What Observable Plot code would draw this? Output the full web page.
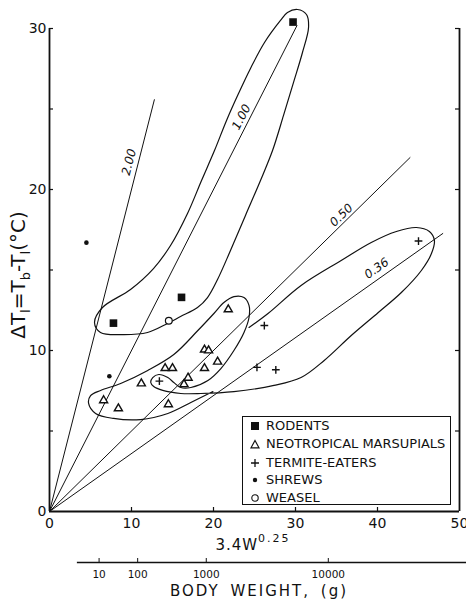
<!DOCTYPE html>
<html><head><meta charset="utf-8">
<script src="https://cdn.jsdelivr.net/npm/d3@7"></script>
<script src="https://cdn.jsdelivr.net/npm/@observablehq/plot@0.6"></script>
<style>
body{margin:0;background:#fff;}
#wrap{position:relative;width:466px;height:611px;overflow:hidden;font-family:"DejaVu Sans",sans-serif;color:#111;background:#fff;}
#wrap > svg{position:absolute;left:0;}
.lbl{position:absolute;white-space:nowrap;transform:translateX(-50%);}
#legend{position:absolute;left:242px;top:416px;width:207px;height:87px;border:1.5px solid #111;font-size:13px;background:#fff;}
#legend .row{position:absolute;left:0;height:16px;line-height:16px;transform:translateY(-50%);white-space:nowrap;}
#legend .row svg{position:absolute;left:7px;top:3px;}
#legend .row span{position:absolute;left:23px;top:0;}
</style></head>
<body>
<div id="wrap"></div>
<script>
// ---------- data ----------
// Each point: [3.4W^0.25, ΔT (°C)]
const rodents = [[29.7, 30.4], [7.8, 11.7], [16.1, 13.3]];
const marsupials = [[6.6, 6.9], [8.4, 6.4], [11.2, 7.95], [14.1, 8.9], [15.0, 8.9], [14.5, 6.65],
  [16.9, 8.3], [16.4, 7.9], [18.9, 8.9], [18.9, 10.05], [19.4, 10.0], [20.5, 9.3], [21.8, 12.55]];
const termiteEaters = [[45.0, 16.8], [26.2, 11.55], [25.3, 8.95], [27.6, 8.8], [13.4, 8.1]];
const shrews = [[4.5, 16.7], [7.3, 8.4]];
const weasel = [[14.55, 11.85]];

// Lines of constant conductance ΔT = k * 3.4W^0.25
const slopes = [2.00, 1.00, 0.50, 0.36];
const slopeLineEnds = [12.8, 30.2, 44.0, 48.0];
const slopeLabels = ["2.00", "1.00", "0.50", "0.36"];
const slopeLabelX = [9.7, 23.4, 35.6, 39.9];
const slopeLabelY = [21.7, 24.5, 18.4, 15.1];

// Hand-drawn group outlines
const rodentOutline = [[5.49,11.74],[6.22,11.12],[9.02,10.99],[11.95,11.12],[14.39,11.68],[15.98,12.11],
  [18.05,12.67],[19.27,13.29],[20.49,14.41],[22.07,16.21],[23.90,18.39],[25.73,20.56],[27.20,22.42],
  [28.54,24.60],[29.76,26.65],[30.85,28.51],[31.59,30.06],[31.34,30.87],[30.24,31.18],[29.02,30.99],
  [28.17,30.50],[26.22,29.13],[24.51,27.52],[23.05,25.96],[21.59,24.29],[20.12,22.42],[18.54,20.56],
  [16.83,18.51],[14.76,16.52],[12.68,15.09],[9.88,13.79],[6.46,12.67]];
const marsupialTermiteOutline = [[19.93,7.45],[17.24,6.77],[14.43,6.09],[11.12,5.71],[7.82,5.78],[5.62,6.09],
  [4.77,6.71],[5.01,7.20],[6.23,7.52],[8.68,7.95],[11.98,8.76],[15.16,9.75],[18.09,11.24],[20.05,12.30],
  [21.27,12.98],[22.49,13.35],[23.72,13.29],[24.33,12.80],[24.33,12.05],[23.72,11.12],[22.49,10.00],
  [20.90,8.88],[19.32,8.14],[17.24,7.70],[16.01,7.70],[15.16,8.01],[14.43,8.32],[13.33,8.51],[12.59,8.32],
  [12.35,8.01],[12.71,7.76],[13.81,7.52],[16.01,7.33],[18.46,7.33],[22.49,7.45],[27.38,7.83],[30.68,8.32],
  [33.50,9.38],[36.80,10.93],[40.10,12.36],[42.91,13.60],[45.35,14.97],[46.58,16.02],[46.94,16.83],
  [46.33,17.39],[44.74,17.64],[42.30,17.39],[39.24,16.71],[35.57,15.59],[30.68,14.04],[26.65,12.30],[24.33,11.43]];

// Axes
const xTicks = [0, 10, 20, 30, 40, 50];
const yTicks = [0, 10, 20, 30];
const yMinorTicks = [5, 10, 15, 20, 25, 30];
const xMinorTicks = [10, 20, 30, 40];
const weightTicks = [10, 100, 1000, 10000];
const weightAxisStart = 1;
const legendItems = ["RODENTS", "NEOTROPICAL MARSUPIALS", "TERMITE-EATERS", "SHREWS", "WEASEL"];

// ---------- chart ----------
const W = 466, H = 553, mL = 49, mR = 7, mT = 28, mB = 42;
const xDom = [0, 50], yDom = [0, 30];
const pxX = (W - mL - mR) / (xDom[1] - xDom[0]);
const pxY = (H - mT - mB) / (yDom[1] - yDom[0]);
const toW = w => 3.4 * Math.pow(w, 0.25);
const ink = "#111";

const slopeRows = slopes.map((k, i) => ({k, xEnd: slopeLineEnds[i], label: slopeLabels[i], lx: slopeLabelX[i], ly: slopeLabelY[i],
  angle: -Math.atan(k * pxY / pxX) * 180 / Math.PI}));

const chart = Plot.plot({
  width: W, height: H, marginLeft: mL, marginRight: mR, marginTop: mT, marginBottom: mB,
  style: {fontFamily: "DejaVu Sans", fontSize: "14px", color: ink, background: "white"},
  x: {domain: xDom, ticks: xTicks, tickSize: 0, tickPadding: 7, label: null},
  y: {domain: yDom, ticks: yTicks, tickSize: 0, tickPadding: 3, label: null},
  marks: [
    // frame
    Plot.ruleX([xDom[0], xDom[1]], {y1: yDom[0], y2: yDom[1], stroke: ink, strokeWidth: 1.8}),
    Plot.ruleY([yDom[0]], {x1: xDom[0], x2: xDom[1], stroke: ink, strokeWidth: 1.8}),
    Plot.ruleY(yMinorTicks, {x1: xDom[0], x2: xDom[0] + 4 / pxX, stroke: ink, strokeWidth: 1.2}),
    Plot.ruleY(yMinorTicks, {x1: xDom[1] - 4 / pxX, x2: xDom[1], stroke: ink, strokeWidth: 1.2}),
    Plot.ruleX(xMinorTicks, {y1: yDom[0], y2: yDom[0] + 4 / pxY, stroke: ink, strokeWidth: 1.2}),
    // conductance lines
    Plot.link(slopeRows, {x1: d => 0, y1: d => 0, x2: d => d.xEnd, y2: d => d.k * d.xEnd, stroke: ink, strokeWidth: 1}),
    Plot.text(slopeRows, {x: "lx", y: "ly", text: "label", rotate: d => d.angle, fontSize: 12, fontStyle: "italic", fill: ink}),
    // outlines
    Plot.line(rodentOutline, {x: d => d[0], y: d => d[1], curve: "catmull-rom-closed", stroke: ink, strokeWidth: 1.2}),
    Plot.line(marsupialTermiteOutline, {x: d => d[0], y: d => d[1], curve: "catmull-rom", stroke: ink, strokeWidth: 1.2}),
    // points
    Plot.dot(marsupials, {x: d => d[0], y: d => d[1], symbol: "triangle", r: 3, stroke: ink, strokeWidth: 1.4, fill: "white"}),
    Plot.dot(termiteEaters, {x: d => d[0], y: d => d[1], symbol: "times", rotate: 45, r: 2.6, stroke: ink, strokeWidth: 1.4}),
    Plot.dot(shrews, {x: d => d[0], y: d => d[1], r: 2.3, fill: ink, stroke: "none"}),
    Plot.dot(weasel, {x: d => d[0], y: d => d[1], r: 3.4, stroke: ink, strokeWidth: 1.2, fill: "white"}),
    Plot.dot(rodents, {x: d => d[0], y: d => d[1], symbol: "square", r: 4.3, fill: ink, stroke: "none"})
  ]
});

// y-axis title with subscripts
{
  const svg = d3.select(chart);
  const t = svg.append("text")
    .attr("transform", "translate(25,275) rotate(-90)")
    .attr("text-anchor", "middle")
    .attr("font-size", 20).attr("font-family", "DejaVu Sans").attr("fill", ink);
  const parts = [["ΔT", 0, 20], ["l", 5, 13], ["=T", -5, 20], ["b", 5, 13], ["-T", -5, 20], ["l", 5, 13], ["(°C)", -5, 20]];
  parts.forEach(([s, dy, fs]) => t.append("tspan").attr("dy", dy).attr("font-size", fs).text(s));
}

// secondary body-weight axis
const axis2 = Plot.plot({
  width: W, height: 58, marginLeft: mL, marginRight: mR, marginTop: 5, marginBottom: 49,
  style: {fontFamily: "DejaVu Sans", fontSize: "10.5px", color: ink, background: "white"},
  x: {domain: xDom, axis: null},
  y: {domain: [0, 1], axis: null},
  marks: [
    Plot.ruleY([0], {x1: toW(weightAxisStart), x2: xDom[1] + 7 / pxX, stroke: ink, strokeWidth: 1.5}),
    Plot.ruleX(weightTicks, {x: toW, y1: 0, y2: 1, stroke: ink, strokeWidth: 1}),
    Plot.text(weightTicks, {x: toW, y: 0, dy: 12, text: d => String(d), fill: ink, fontSize: 10.5, letterSpacing: "1.5px"})
  ]
});

const wrap = document.getElementById("wrap");
chart.style.top = "0px";
axis2.style.top = H + "px";
wrap.appendChild(chart);
wrap.appendChild(axis2);

// x-axis titles
const xl = document.createElement("div");
xl.className = "lbl";
xl.style.cssText += "left:253px;top:538px;font-size:15px;line-height:15px;letter-spacing:1px;";
xl.innerHTML = "3.4W<span style=\"font-size:11px;letter-spacing:2px;position:relative;top:-8px;\">0.25</span>";
wrap.appendChild(xl);
const bl = document.createElement("div");
bl.className = "lbl";
bl.style.cssText += "left:259px;top:583px;font-size:15px;line-height:16px;letter-spacing:2px;word-spacing:4px;";
bl.textContent = "BODY WEIGHT, (g)";
wrap.appendChild(bl);

// legend
const legend = document.createElement("div");
legend.id = "legend";
const symbols = [
  '<rect x="1" y="1" width="8" height="8" fill="#111"/>',
  '<path d="M5 1.5 L9 8.8 L1 8.8 Z" fill="none" stroke="#111" stroke-width="1.2"/>',
  '<path d="M5 1 V9 M1 5 H9" stroke="#111" stroke-width="1.3"/>',
  '<circle cx="5" cy="5" r="2.2" fill="#111"/>',
  '<circle cx="5" cy="5" r="3.2" fill="none" stroke="#111" stroke-width="1.1"/>'
];
const rowTops = [9, 27, 46, 63, 81];
legendItems.forEach((name, i) => {
  const r = document.createElement("div");
  r.className = "row";
  r.style.top = rowTops[i] + "px";
  r.innerHTML = '<svg width="10" height="10" viewBox="0 0 10 10">' + symbols[i] + '</svg><span>' + name + '</span>';
  legend.appendChild(r);
});
wrap.appendChild(legend);
</script>
</body></html>
